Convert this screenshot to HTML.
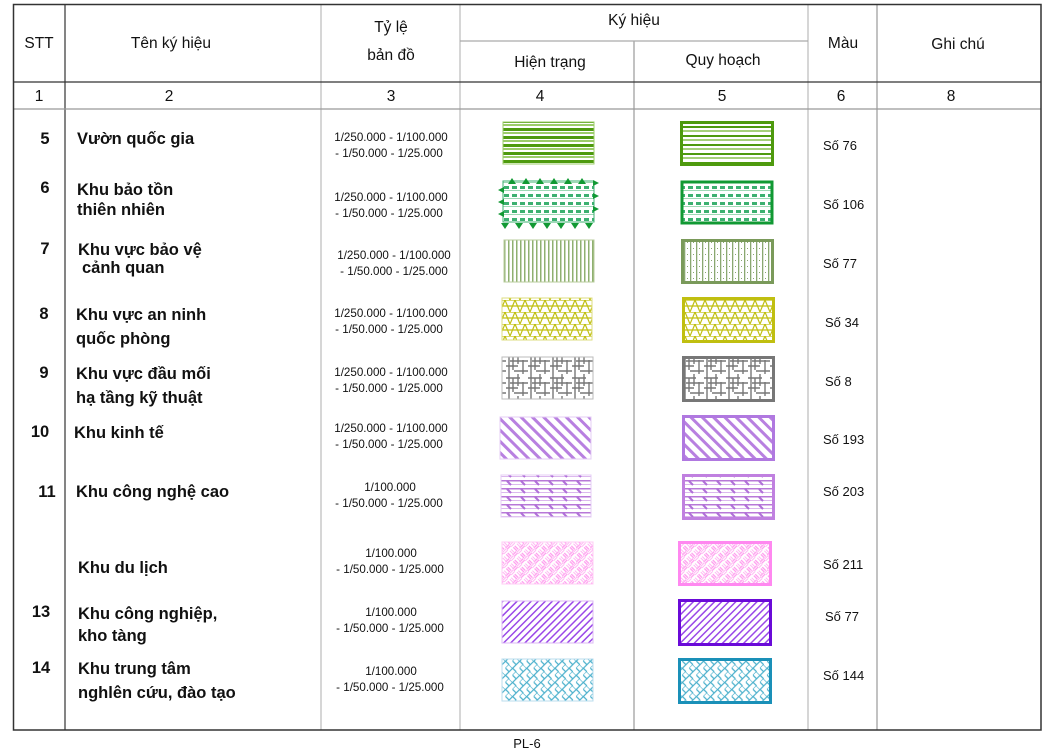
<!DOCTYPE html>
<html><head><meta charset="utf-8"><style>
body{margin:0;background:#fff;width:1049px;height:754px;overflow:hidden}
svg{display:block}
text{font-family:"Liberation Sans",Arial,sans-serif;fill:#111}
.h{font-size:15.5px}
.b{font-size:16.5px;font-weight:bold}
.s{font-size:11.6px}
.c{font-size:13px}
</style></head><body>
<svg width="1049" height="754" viewBox="0 0 1049 754" xmlns="http://www.w3.org/2000/svg">
<defs>
<pattern id="p5" width="8" height="8" patternUnits="userSpaceOnUse"><rect width="8" height="8" fill="#fff"/><rect y="0" width="8" height="3" fill="#4e9a0e"/><rect y="4" width="8" height="2" fill="#9ccc6a"/></pattern>
<pattern id="p5r" width="8" height="9" patternUnits="userSpaceOnUse"><rect width="8" height="9" fill="#fff"/><rect y="0" width="8" height="2" fill="#4e9a0e"/><rect y="4" width="8" height="2" fill="#a6d07a"/></pattern>
<pattern id="p6" width="8" height="8" patternUnits="userSpaceOnUse"><rect width="8" height="8" fill="#fff"/><rect x="0" y="2" width="5" height="3" fill="#3cb070"/><rect y="6" width="8" height="1" fill="#9fd9b5"/></pattern>
<pattern id="p7" width="4" height="8" patternUnits="userSpaceOnUse"><rect width="4" height="8" fill="#fff"/><rect x="0" width="1.5" height="8" fill="#8fb070"/></pattern>
<pattern id="p7r" width="6" height="6" patternUnits="userSpaceOnUse"><rect width="6" height="6" fill="#fff"/><rect x="0" width="1.3" height="6" fill="#8aa870"/><rect x="3" y="2" width="1" height="1" fill="#8aa870"/></pattern>
<pattern id="p8" width="10" height="12" patternUnits="userSpaceOnUse"><rect width="10" height="12" fill="#fff"/><path d="M0 12L5 0L10 12M0 0h10M0 6h10" stroke="#c0bf10" stroke-width="1.2" fill="none"/></pattern>
<pattern id="p9" width="22" height="22" patternUnits="userSpaceOnUse"><rect width="22" height="22" fill="#fff"/><path d="M3 0v22M7 4v14M12 0v12M17 8v14M0 4h14M4 9h18M0 14h12M8 19h14" stroke="#777" stroke-width="1.4" fill="none"/></pattern>
<pattern id="p10" width="8" height="8" patternUnits="userSpaceOnUse" patternTransform="rotate(-45)"><rect width="8" height="8" fill="#fff"/><rect width="3" height="8" fill="#b880e0"/></pattern>
<pattern id="p11" width="14" height="8" patternUnits="userSpaceOnUse"><rect width="14" height="8" fill="#fff"/><rect y="0" width="14" height="1.5" fill="#b878d8"/><rect y="4" width="14" height="1" fill="#dcb8ee"/><path d="M3 1l4 4" stroke="#b070d8" stroke-width="2"/></pattern>
<pattern id="pdl" width="10" height="10" patternUnits="userSpaceOnUse" patternTransform="rotate(45)"><rect width="10" height="10" fill="#fff"/><path d="M0 2h5M0 4h5M5 5v5M7 5v5" stroke="#ff99ee" stroke-width="1.2"/><path d="M6 0v5M8 0v5M0 7h5M0 9h5" stroke="#ffb8f3" stroke-width="1"/></pattern>
<pattern id="p13" width="5" height="5" patternUnits="userSpaceOnUse" patternTransform="rotate(45)"><rect width="5" height="5" fill="#fff"/><rect width="1.5" height="5" fill="#9a48e8"/></pattern>
<pattern id="p14" width="10" height="10" patternUnits="userSpaceOnUse" patternTransform="rotate(45)"><rect width="10" height="10" fill="#fff"/><path d="M0 0h10v5M5 0v10M0 5h5M5 10h5" stroke="#4ab0cc" stroke-width="1.2" fill="none"/></pattern>
</defs>

<g stroke="#bbb" stroke-width="1.2" fill="none">
<line x1="65" y1="5" x2="65" y2="730" stroke="#333"/>
<line x1="321" y1="5" x2="321" y2="730"/>
<line x1="460" y1="5" x2="460" y2="730"/>
<line x1="634" y1="41" x2="634" y2="730" stroke="#999"/>
<line x1="808" y1="5" x2="808" y2="730"/>
<line x1="877" y1="5" x2="877" y2="730" stroke="#999"/>
<line x1="460" y1="41" x2="808" y2="41" stroke="#aaa"/>
<line x1="13" y1="82" x2="1041" y2="82" stroke="#333"/>
<line x1="13" y1="109" x2="1041" y2="109" stroke="#999"/>
</g>
<rect x="13.5" y="4.5" width="1027.5" height="725.5" fill="none" stroke="#333" stroke-width="1.5"/>

<text class="h" x="39" y="48" text-anchor="middle">STT</text>
<text class="h" x="171" y="48" text-anchor="middle">Tên ký hiệu</text>
<text class="h" x="391" y="32" text-anchor="middle">Tỷ lệ</text>
<text class="h" x="391" y="60" text-anchor="middle">bản đồ</text>
<text class="h" x="634" y="25" text-anchor="middle">Ký hiệu</text>
<text class="h" x="550" y="67" text-anchor="middle">Hiện trạng</text>
<text class="h" x="723" y="65" text-anchor="middle">Quy hoạch</text>
<text class="h" x="843" y="48" text-anchor="middle">Màu</text>
<text class="h" x="958" y="49" text-anchor="middle">Ghi chú</text>
<g text-anchor="middle">
<text class="h" x="39" y="101">1</text><text class="h" x="169" y="101">2</text><text class="h" x="391" y="101">3</text>
<text class="h" x="540" y="101">4</text><text class="h" x="722" y="101">5</text><text class="h" x="841" y="101">6</text><text class="h" x="951" y="101">8</text>
</g>

<g text-anchor="middle">
<text class="b" x="45" y="144">5</text><text class="b" x="45" y="193">6</text><text class="b" x="45" y="254">7</text>
<text class="b" x="44" y="319">8</text><text class="b" x="44" y="378">9</text><text class="b" x="40" y="437">10</text>
<text class="b" x="47" y="497">11</text><text class="b" x="41" y="617">13</text><text class="b" x="41" y="673">14</text>
</g>
<text class="b" x="77" y="144">Vườn quốc gia</text>
<text class="b" x="77" y="195">Khu bảo tồn</text><text class="b" x="77" y="215">thiên nhiên</text>
<text class="b" x="78" y="255">Khu vực bảo vệ</text><text class="b" x="82" y="273">cảnh quan</text>
<text class="b" x="76" y="320">Khu vực an ninh</text><text class="b" x="76" y="344">quốc phòng</text>
<text class="b" x="76" y="379">Khu vực đầu mối</text><text class="b" x="76" y="403">hạ tầng kỹ thuật</text>
<text class="b" x="74" y="438">Khu kinh tế</text>
<text class="b" x="76" y="497">Khu công nghệ cao</text>
<text class="b" x="78" y="573">Khu du lịch</text>
<text class="b" x="78" y="619">Khu công nghiệp,</text><text class="b" x="78" y="641">kho tàng</text>
<text class="b" x="78" y="674">Khu trung tâm</text><text class="b" x="78" y="698">nghlên cứu, đào tạo</text>

<g text-anchor="middle">
<text class="s" x="391" y="141">1/250.000 - 1/100.000</text><text class="s" x="389" y="157">- 1/50.000 - 1/25.000</text>
<text class="s" x="391" y="201">1/250.000 - 1/100.000</text><text class="s" x="389" y="217">- 1/50.000 - 1/25.000</text>
<text class="s" x="394" y="259">1/250.000 - 1/100.000</text><text class="s" x="394" y="275">- 1/50.000 - 1/25.000</text>
<text class="s" x="391" y="317">1/250.000 - 1/100.000</text><text class="s" x="389" y="333">- 1/50.000 - 1/25.000</text>
<text class="s" x="391" y="376">1/250.000 - 1/100.000</text><text class="s" x="389" y="392">- 1/50.000 - 1/25.000</text>
<text class="s" x="391" y="432">1/250.000 - 1/100.000</text><text class="s" x="389" y="448">- 1/50.000 - 1/25.000</text>
<text class="s" x="390" y="491">1/100.000</text><text class="s" x="389" y="507">- 1/50.000 - 1/25.000</text>
<text class="s" x="391" y="557">1/100.000</text><text class="s" x="390" y="573">- 1/50.000 - 1/25.000</text>
<text class="s" x="391" y="616">1/100.000</text><text class="s" x="390" y="632">- 1/50.000 - 1/25.000</text>
<text class="s" x="391" y="675">1/100.000</text><text class="s" x="390" y="691">- 1/50.000 - 1/25.000</text>
</g>

<g>
<text class="c" x="823" y="150">Số 76</text><text class="c" x="823" y="209">Số 106</text><text class="c" x="823" y="268">Số 77</text>
<text class="c" x="825" y="327">Số 34</text><text class="c" x="825" y="386">Số 8</text><text class="c" x="823" y="444">Số 193</text>
<text class="c" x="823" y="496">Số 203</text><text class="c" x="823" y="569">Số 211</text><text class="c" x="825" y="621">Số 77</text>
<text class="c" x="823" y="680">Số 144</text>
</g>

<rect x="503" y="122" width="91" height="42" fill="url(#p5)" stroke="#9ccc6a"/>
<rect x="503" y="181" width="91" height="41" fill="url(#p6)" stroke="#3cb070"/>
<g fill="#119933">
<path d="M508 184l4-6 4 6zM522 184l4-6 4 6zM536 184l4-6 4 6zM550 184l4-6 4 6zM564 184l4-6 4 6zM578 184l4-6 4 6z"/>
<path d="M501 223l4 6 4-6zM515 223l4 6 4-6zM529 223l4 6 4-6zM543 223l4 6 4-6zM557 223l4 6 4-6zM571 223l4 6 4-6zM585 223l4 6 4-6z"/>
<path d="M504 187l-6 3 6 3zM504 199l-6 3 6 3zM504 211l-6 3 6 3zM593 180l6 3-6 3zM593 193l6 3-6 3zM593 206l6 3-6 3z"/>
</g>
<rect x="504" y="240" width="90" height="42" fill="url(#p7)" stroke="#b8cc9c"/>
<rect x="502" y="298" width="90" height="42" fill="url(#p8)" stroke="#dede80"/>
<rect x="502" y="357" width="91" height="42" fill="url(#p9)" stroke="#bbb"/>
<rect x="500" y="417" width="91" height="42" fill="url(#p10)" stroke="#e4cdf4"/>
<rect x="501" y="475" width="90" height="42" fill="url(#p11)" stroke="#e4cdf4"/>
<rect x="502" y="542" width="91" height="42" fill="url(#pdl)" stroke="#ffccf5"/>
<rect x="502" y="601" width="91" height="42" fill="url(#p13)" stroke="#dcbaf4"/>
<rect x="502" y="659" width="91" height="42" fill="url(#p14)" stroke="#bde"/>

<rect x="681.5" y="122.5" width="91" height="42" fill="url(#p5r)" stroke="#4e9a0e" stroke-width="3"/>
<rect x="682" y="182" width="90" height="41" fill="url(#p6)" stroke="#119933" stroke-width="3"/>
<rect x="682.5" y="240.5" width="90" height="42" fill="url(#p7r)" stroke="#7a9a5a" stroke-width="3"/>
<rect x="683.5" y="298.5" width="90" height="43" fill="url(#p8)" stroke="#c0bf10" stroke-width="3"/>
<rect x="683.5" y="357.5" width="90" height="43" fill="url(#p9)" stroke="#777" stroke-width="3"/>
<rect x="683.5" y="416.5" width="90" height="43" fill="url(#p10)" stroke="#b078e0" stroke-width="3"/>
<rect x="683.5" y="475.5" width="90" height="43" fill="url(#p11)" stroke="#c080e0" stroke-width="3"/>
<rect x="679.5" y="542.5" width="91" height="42" fill="url(#pdl)" stroke="#ff88f0" stroke-width="3"/>
<rect x="679.5" y="600.5" width="91" height="44" fill="url(#p13)" stroke="#6a0ad8" stroke-width="3"/>
<rect x="679.5" y="659.5" width="91" height="43" fill="url(#p14)" stroke="#1a90b8" stroke-width="3"/>

<text x="527" y="748" text-anchor="middle" style="font-size:13px">PL-6</text>
</svg>
</body></html>
